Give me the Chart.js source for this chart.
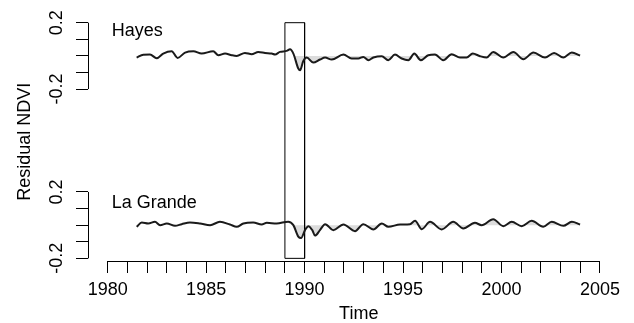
<!DOCTYPE html>
<html>
<head>
<meta charset="utf-8">
<script src="https://cdn.jsdelivr.net/npm/chart.js@4"></script>
<style>
  html, body { margin: 0; padding: 0; background: #fff; }
  canvas { display: block; }
</style>
</head>
<body>
<canvas id="chart" width="634" height="323"></canvas>
<script>
// smoothed residual NDVI (turning points)
const hayesTime = [1981.47, 1981.81, 1982.15, 1982.49, 1982.82, 1983.25, 1983.55, 1983.93, 1984.35, 1984.77,
  1985.36, 1985.62, 1985.96, 1986.30, 1986.55, 1986.97, 1987.31, 1987.65, 1987.99, 1988.33,
  1988.50, 1988.75, 1989.09, 1989.26, 1989.43, 1989.68, 1989.77, 1989.93, 1990.11, 1990.44,
  1990.78, 1991.04, 1991.38, 1991.97, 1992.39, 1992.73, 1992.98, 1993.24, 1993.49, 1993.92,
  1994.25, 1994.59, 1994.93, 1995.27, 1995.57, 1995.90, 1996.28, 1996.62, 1997.04, 1997.47,
  1997.89, 1998.23, 1998.54, 1998.91, 1999.25, 1999.58, 2000.09, 2000.60, 2001.11, 2001.62,
  2002.21, 2002.67, 2003.14, 2003.57, 2003.99];
const hayesResid = [-0.010, 0.007, 0.008, -0.014, 0.014, 0.028, -0.012, 0.020, 0.028, 0.014,
  0.028, 0.004, 0.014, 0.004, 0.000, 0.018, 0.010, 0.024, 0.018, 0.014,
  0.008, 0.024, 0.030, 0.040, 0.014, -0.076, -0.086, -0.032, -0.010, -0.040,
  -0.022, -0.010, -0.022, 0.008, -0.016, -0.016, -0.006, -0.026, -0.010, -0.002,
  -0.026, 0.008, -0.016, -0.026, 0.014, -0.026, 0.004, 0.008, -0.026, 0.010,
  -0.010, -0.010, 0.014, -0.002, -0.010, 0.024, -0.010, 0.024, -0.020, 0.020,
  -0.010, 0.018, -0.010, 0.020, 0.002];

const grandeTime = [1981.47, 1981.73, 1982.06, 1982.40, 1982.66, 1983.00, 1983.42, 1983.76, 1984.18, 1984.69,
  1985.20, 1985.70, 1986.21, 1986.55, 1986.89, 1987.39, 1987.82, 1988.08, 1988.58, 1989.17,
  1989.43, 1989.68, 1989.82, 1990.02, 1990.19, 1990.39, 1990.53, 1990.78, 1991.04, 1991.46,
  1991.97, 1992.56, 1992.98, 1993.49, 1993.92, 1994.25, 1994.85, 1995.35, 1995.61, 1995.95,
  1996.37, 1996.96, 1997.55, 1998.06, 1998.65, 1998.99, 1999.58, 2000.09, 2000.52, 2001.03,
  2001.53, 2002.12, 2002.55, 2003.14, 2003.57, 2003.99];
const grandeResid = [-0.010, 0.016, 0.010, 0.020, 0.000, 0.010, -0.004, 0.006, 0.016, 0.010,
  0.000, 0.020, 0.004, -0.010, 0.010, 0.016, 0.004, 0.014, 0.010, 0.021,
  0.000, -0.069, -0.078, -0.030, -0.006, -0.030, -0.063, -0.030, 0.006, -0.030,
  0.004, -0.036, 0.006, -0.026, 0.010, -0.010, 0.004, 0.006, 0.026, -0.024,
  0.020, -0.026, 0.020, -0.020, 0.014, 0.000, 0.036, -0.006, 0.020, -0.006,
  0.026, -0.010, 0.020, -0.004, 0.020, 0.004];

const panelNames = ["Hayes", "La Grande"];
const panelTicks = [-0.2, -0.1, 0, 0.1, 0.2];
const panelTickLabels = ["-0.2", "", "", "", "0.2"];
const yearTicks = [1980, 1981, 1982, 1983, 1984, 1985, 1986, 1987, 1988, 1989, 1990, 1991, 1992,
  1993, 1994, 1995, 1996, 1997, 1998, 1999, 2000, 2001, 2002, 2003, 2004, 2005];
const yearLabels = [1980, 1985, 1990, 1995, 2000, 2005];
const eventYears = [1989, 1990];

// both panels share one y scale; the upper panel is shifted up by this much
const GAP = 1.02;
const FILL_FROM = 1989.4;
const FONT = '"Liberation Sans", Arial, Helvetica, sans-serif';
Chart.defaults.font.family = FONT;
Chart.defaults.color = '#000';

function pts(t, v, shift) {
  return t.map((x, i) => ({ x: x, y: v[i] + shift }));
}
function fillPts(t, v, shift) {
  return pts(t, v, shift).filter(p => p.x >= FILL_FROM);
}

const boxPts = [
  { x: eventYears[0], y: -0.2 }, { x: eventYears[0], y: 0.2 + GAP },
  { x: eventYears[1], y: 0.2 + GAP }, { x: eventYears[1], y: -0.2 },
  { x: eventYears[0], y: -0.2 }
];

const axesPlugin = {
  id: 'rAxes',
  afterDraw(chart) {
    const ctx = chart.ctx;
    const xs = chart.scales.x, ys = chart.scales.y;
    const ax = Math.round(chart.chartArea.left) + 0.5;
    const ay = Math.round(chart.chartArea.bottom) + 0.5;
    ctx.save();
    ctx.strokeStyle = '#000';
    ctx.lineWidth = 1;
    ctx.beginPath();
    [0, GAP].forEach(s => {
      ctx.moveTo(ax, ys.getPixelForValue(-0.2 + s));
      ctx.lineTo(ax, ys.getPixelForValue(0.2 + s));
    });
    ctx.moveTo(xs.getPixelForValue(yearTicks[0]), ay);
    ctx.lineTo(xs.getPixelForValue(yearTicks[yearTicks.length - 1]), ay);
    ctx.stroke();

    ctx.fillStyle = '#000';
    ctx.font = '18px ' + FONT;
    ctx.textAlign = 'center';
    ctx.textBaseline = 'middle';
    [0, GAP].forEach(s => {
      panelTicks.forEach((v, i) => {
        if (!panelTickLabels[i]) return;
        ctx.save();
        ctx.translate(57, ys.getPixelForValue(v + s));
        ctx.rotate(-Math.PI / 2);
        ctx.fillText(panelTickLabels[i], 0, 0);
        ctx.restore();
      });
    });

    ctx.textAlign = 'left';
    ctx.fillText(panelNames[0], xs.getPixelForValue(1980.2), ys.getPixelForValue(0.15 + GAP));
    ctx.fillText(panelNames[1], xs.getPixelForValue(1980.2), ys.getPixelForValue(0.136));
    ctx.restore();
  }
};

new Chart(document.getElementById('chart'), {
  type: 'line',
  data: {
    datasets: [
      { data: pts(hayesTime, hayesResid, GAP), borderColor: '#1a1a1a', borderWidth: 2,
        pointRadius: 0, cubicInterpolationMode: 'monotone', fill: false, order: 1 },
      { data: pts(grandeTime, grandeResid, 0), borderColor: '#1a1a1a', borderWidth: 2,
        pointRadius: 0, cubicInterpolationMode: 'monotone', fill: false, order: 1 },
      { data: fillPts(hayesTime, hayesResid, GAP), borderWidth: 0, pointRadius: 0,
        cubicInterpolationMode: 'monotone', backgroundColor: '#dcdcdc', fill: { value: GAP }, order: 3 },
      { data: fillPts(grandeTime, grandeResid, 0), borderWidth: 0, pointRadius: 0,
        cubicInterpolationMode: 'monotone', backgroundColor: '#dcdcdc', fill: { value: 0 }, order: 3 },
      { data: boxPts, borderColor: '#000', borderWidth: 1, pointRadius: 0, tension: 0,
        fill: false, clip: 4, order: 2 }
    ]
  },
  options: {
    responsive: false,
    animation: false,
    devicePixelRatio: 1,
    layout: { padding: { top: 22.7, right: 4.5, left: 0, bottom: 0 } },
    plugins: { legend: { display: false }, tooltip: { enabled: false } },
    scales: {
      x: {
        type: 'linear', min: 1979, max: 2006.5,
        afterBuildTicks: s => { s.ticks = yearTicks.map(v => ({ value: v })); },
        afterFit: s => { s.height = 62; },
        grid: { drawOnChartArea: false, tickLength: 12, color: '#000', lineWidth: 1 },
        border: { display: false },
        ticks: {
          autoSkip: false, maxRotation: 0, padding: 6, color: '#000',
          font: { size: 18 },
          callback: v => yearLabels.includes(v) ? String(v) : ''
        },
        title: { display: true, text: 'Time', color: '#000', font: { size: 18, lineHeight: 1 },
          padding: { top: 0, bottom: 0 } }
      },
      y: {
        type: 'linear', min: -0.216, max: 0.2 + GAP,
        afterBuildTicks: s => {
          s.ticks = panelTicks.map(v => ({ value: v + GAP })).concat(panelTicks.map(v => ({ value: v })));
        },
        afterFit: s => { s.width = 88; },
        grid: { drawOnChartArea: false, tickLength: 12, color: '#000', lineWidth: 1 },
        border: { display: false },
        ticks: { display: false },
        title: { display: true, text: 'Residual NDVI', color: '#000', font: { size: 18, lineHeight: 1 },
          padding: { top: 16, bottom: 0 } }
      }
    }
  },
  plugins: [axesPlugin]
});
</script>
</body>
</html>
